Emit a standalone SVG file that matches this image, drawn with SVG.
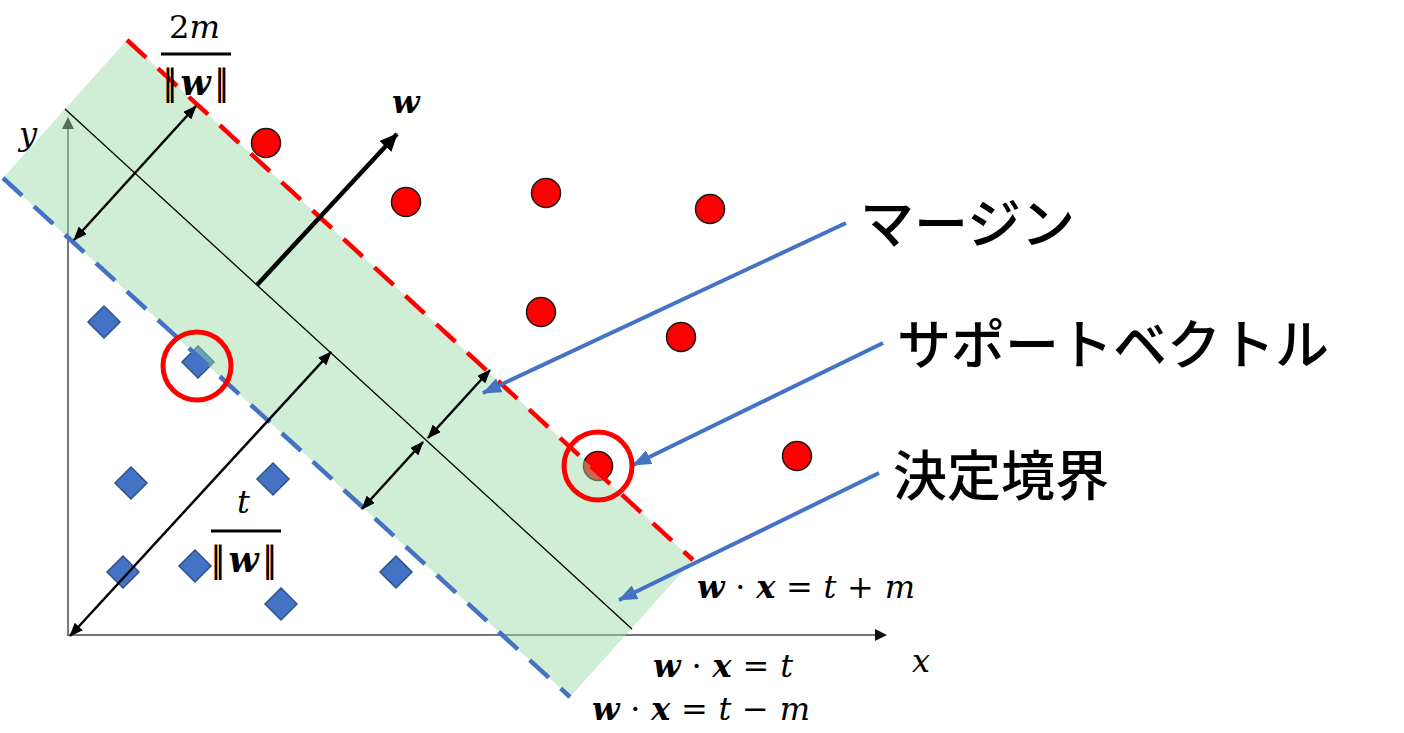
<svg xmlns="http://www.w3.org/2000/svg" width="1404" height="733" viewBox="0 0 1404 733">
<style>
.axis{stroke:#767676;stroke-width:2;fill:none}
.pos{fill:#ff0000;stroke:#1a1a1a;stroke-width:1.5}
.neg{fill:#4472c4;stroke:#2f528f;stroke-width:1.5}
.ring{fill:none;stroke:#ff0000;stroke-width:5}
.arr{stroke:#000;stroke-width:2.5;fill:none;marker-start:url(#ah);marker-end:url(#ah)}
.ptr{stroke:#4472c4;stroke-width:4;fill:none;marker-end:url(#bh)}
.jp{font-family:"Noto Sans CJK JP","Noto Sans",sans-serif;font-size:54px;font-weight:500;fill:#000}
.m{font-family:"DejaVu Serif","Liberation Serif",serif;font-size:32px;fill:#000}
.nw{font-size:35px}
.b{font-weight:bold;font-style:italic}
.i{font-style:italic}
.bars{letter-spacing:-7.5px}
</style>
<defs>
<marker id="ah" markerUnits="userSpaceOnUse" markerWidth="14" markerHeight="11" refX="13" refY="5.5" orient="auto-start-reverse" viewBox="0 0 14 11">
<path d="M0,0 L14,5.5 L0,11 z" fill="#000"/>
</marker>
<marker id="wh" markerUnits="userSpaceOnUse" markerWidth="19" markerHeight="16" refX="17" refY="8" orient="auto" viewBox="0 0 19 16">
<path d="M0,0 L18,8 L0,16 z" fill="#000"/>
</marker>
<marker id="bh" markerUnits="userSpaceOnUse" markerWidth="20" markerHeight="15" refX="18" refY="7.5" orient="auto" viewBox="0 0 20 15">
<path d="M0,0 L19,7.5 L0,15 z" fill="#4472c4"/>
</marker>
</defs>
<rect width="1404" height="733" fill="#fff"/>
<g id="axes">
<line class="axis" x1="68" y1="636" x2="68" y2="128"/>
<path d="M68,117 L74,129 L62,129 z" fill="#111"/>
<line class="axis" x1="67" y1="635" x2="876" y2="635"/>
<path d="M887,635 L875,629 L875,641 z" fill="#111"/>
</g>
<g id="positive-points">
<circle class="pos" cx="266" cy="143" r="14.5"/>
<circle class="pos" cx="406" cy="202" r="14.5"/>
<circle class="pos" cx="546" cy="193" r="14.5"/>
<circle class="pos" cx="710" cy="209" r="14.5"/>
<circle class="pos" cx="541" cy="312" r="14.5"/>
<circle class="pos" cx="681" cy="337" r="14.5"/>
<circle class="pos" cx="797" cy="456" r="14.5"/>
<circle class="pos" cx="598" cy="466" r="14.5"/>
</g>
<g id="negative-points">
<path class="neg" d="M104,306 L120,322 L104,338 L88,322 z"/>
<path class="neg" d="M198,346 L214,362 L198,378 L182,362 z"/>
<path class="neg" d="M131,467 L147,483 L131,499 L115,483 z"/>
<path class="neg" d="M273,463 L289,479 L273,495 L257,479 z"/>
<path class="neg" d="M123,556 L139,572 L123,588 L107,572 z"/>
<path class="neg" d="M195,550 L211,566 L195,582 L179,566 z"/>
<path class="neg" d="M281,588 L297,604 L281,620 L265,604 z"/>
<path class="neg" d="M396,556 L412,572 L396,588 L380,572 z"/>
</g>
<g id="margin-band">
<polygon points="127,40 693,560 570,697 3,178" fill="#98d9a5" fill-opacity="0.46"/>
</g>
<g id="connectors">
<line x1="65" y1="109" x2="632" y2="629" stroke="#000" stroke-width="1.3"/>
<line x1="127" y1="40" x2="693" y2="560" stroke="#ff0000" stroke-width="4.5" stroke-dasharray="26 16"/>
<line x1="3" y1="178" x2="570" y2="697" stroke="#4472c4" stroke-width="4.5" stroke-dasharray="26 16"/>
<line class="arr" x1="74" y1="240" x2="196" y2="106"/>
<line x1="257" y1="285" x2="397" y2="134" stroke="#000" stroke-width="4.5" marker-end="url(#wh)"/>
<line class="arr" x1="70" y1="636" x2="331" y2="352"/>
<line class="arr" x1="428" y1="438" x2="490" y2="370"/>
<line class="arr" x1="362" y1="509" x2="423" y2="442"/>
<line class="ptr" x1="846" y1="223" x2="483" y2="393"/>
<line class="ptr" x1="883" y1="343" x2="633" y2="465"/>
<line class="ptr" x1="879" y1="473" x2="619" y2="600"/>
</g>
<g id="support-rings">
<circle class="ring" cx="197" cy="366" r="34"/>
<circle class="ring" cx="598" cy="466" r="34"/>
</g>
<g id="labels">
<text class="jp" x="860" y="244">マージン</text>
<text class="jp" x="897" y="365">サポートベクトル</text>
<text class="jp" x="893" y="496">決定境界</text>
<text class="m b" x="392" y="113">w</text>
<text class="m i" x="19" y="145">y</text>
<text class="m i" x="912" y="672">x</text>
<text class="m" x="169" y="38" textLength="51" lengthAdjust="spacingAndGlyphs">2<tspan class="i">m</tspan></text>
<rect x="161" y="52.5" width="70" height="3" fill="#000"/>
<text class="m nw" x="162" y="95"><tspan class="bars">||</tspan><tspan class="b" dx="10">w</tspan><tspan class="bars" dx="3">||</tspan></text>
<text class="m i" x="237" y="513">t</text>
<rect x="211" y="529.5" width="70" height="3" fill="#000"/>
<text class="m nw" x="210" y="572"><tspan class="bars">||</tspan><tspan class="b" dx="10">w</tspan><tspan class="bars" dx="3">||</tspan></text>
<text class="m" x="697" y="598" textLength="218" lengthAdjust="spacing"><tspan class="b">w</tspan> · <tspan class="b">x</tspan> = <tspan class="i">t</tspan> + <tspan class="i">m</tspan></text>
<text class="m" x="653" y="677" textLength="140" lengthAdjust="spacing"><tspan class="b">w</tspan> · <tspan class="b">x</tspan> = <tspan class="i">t</tspan></text>
<text class="m" x="592" y="720" textLength="218" lengthAdjust="spacing"><tspan class="b">w</tspan> · <tspan class="b">x</tspan> = <tspan class="i">t</tspan> − <tspan class="i">m</tspan></text>
</g>
</svg>
